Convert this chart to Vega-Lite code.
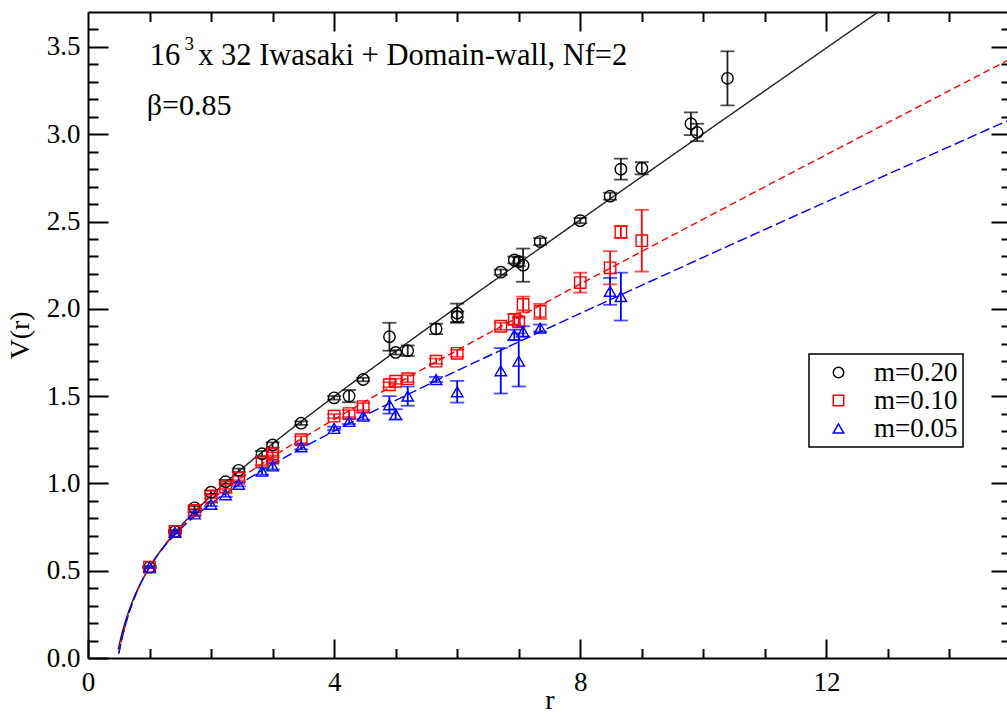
{
  "$schema": "https://vega.github.io/schema/vega-lite/v6.json",
  "width": 923,
  "height": 646,
  "autosize": {"type": "none"},
  "padding": {"left": 88, "top": 12, "right": -4, "bottom": 56},
  "background": "white",
  "config": {
    "view": {"stroke": null},
    "axis": {
      "grid": false,
      "domainColor": "black",
      "domainWidth": 2,
      "tickColor": "black",
      "tickWidth": 2,
      "labelColor": "black",
      "titleColor": "black",
      "labelFlush": false,
      "labelOverlap": false,
      "labelFont": "Liberation Serif",
      "labelFontSize": 27,
      "titleFont": "Liberation Serif",
      "titleFontSize": 28,
      "titleFontWeight": "normal"
    },
    "legend": {"strokeWidth": 1.5}
  },
  "datasets": {
    "fits": [
      {"m": "m=0.20", "r": 0.49, "V": 0.0495},
      {"m": "m=0.20", "r": 0.55, "V": 0.1382},
      {"m": "m=0.20", "r": 0.6, "V": 0.2009},
      {"m": "m=0.20", "r": 0.7, "V": 0.3044},
      {"m": "m=0.20", "r": 0.8, "V": 0.3882},
      {"m": "m=0.20", "r": 0.9, "V": 0.4587},
      {"m": "m=0.20", "r": 1.0, "V": 0.52},
      {"m": "m=0.20", "r": 1.2, "V": 0.624},
      {"m": "m=0.20", "r": 1.5, "V": 0.7524},
      {"m": "m=0.20", "r": 2.0, "V": 0.9292},
      {"m": "m=0.20", "r": 2.5, "V": 1.0838},
      {"m": "m=0.20", "r": 3.0, "V": 1.2273},
      {"m": "m=0.20", "r": 4.0, "V": 1.4977},
      {"m": "m=0.20", "r": 5.0, "V": 1.757},
      {"m": "m=0.20", "r": 6.0, "V": 2.0107},
      {"m": "m=0.20", "r": 7.0, "V": 2.2612},
      {"m": "m=0.20", "r": 8.0, "V": 2.5097},
      {"m": "m=0.20", "r": 10.0, "V": 3.0033},
      {"m": "m=0.20", "r": 12.0, "V": 3.494},
      {"m": "m=0.20", "r": 13.0, "V": 3.7388},
      {"m": "m=0.10", "r": 0.5, "V": 0.025},
      {"m": "m=0.10", "r": 0.55, "V": 0.1075},
      {"m": "m=0.10", "r": 0.6, "V": 0.1779},
      {"m": "m=0.10", "r": 0.7, "V": 0.2923},
      {"m": "m=0.10", "r": 0.8, "V": 0.3827},
      {"m": "m=0.10", "r": 0.9, "V": 0.457},
      {"m": "m=0.10", "r": 1.0, "V": 0.52},
      {"m": "m=0.10", "r": 1.2, "V": 0.6236},
      {"m": "m=0.10", "r": 1.5, "V": 0.7454},
      {"m": "m=0.10", "r": 2.0, "V": 0.9033},
      {"m": "m=0.10", "r": 2.5, "V": 1.0344},
      {"m": "m=0.10", "r": 3.0, "V": 1.1519},
      {"m": "m=0.10", "r": 4.0, "V": 1.3667},
      {"m": "m=0.10", "r": 5.0, "V": 1.568},
      {"m": "m=0.10", "r": 6.0, "V": 1.7626},
      {"m": "m=0.10", "r": 7.0, "V": 1.9533},
      {"m": "m=0.10", "r": 8.0, "V": 2.1416},
      {"m": "m=0.10", "r": 10.0, "V": 2.5139},
      {"m": "m=0.10", "r": 12.0, "V": 2.8829},
      {"m": "m=0.10", "r": 14.0, "V": 3.2499},
      {"m": "m=0.10", "r": 15.0, "V": 3.4329},
      {"m": "m=0.05", "r": 0.5, "V": 0.025},
      {"m": "m=0.05", "r": 0.55, "V": 0.1086},
      {"m": "m=0.05", "r": 0.6, "V": 0.1796},
      {"m": "m=0.05", "r": 0.7, "V": 0.2946},
      {"m": "m=0.05", "r": 0.8, "V": 0.3846},
      {"m": "m=0.05", "r": 0.9, "V": 0.4581},
      {"m": "m=0.05", "r": 1.0, "V": 0.52},
      {"m": "m=0.05", "r": 1.2, "V": 0.6206},
      {"m": "m=0.05", "r": 1.5, "V": 0.7369},
      {"m": "m=0.05", "r": 2.0, "V": 0.8841},
      {"m": "m=0.05", "r": 2.5, "V": 1.0037},
      {"m": "m=0.05", "r": 3.0, "V": 1.1092},
      {"m": "m=0.05", "r": 4.0, "V": 1.2995},
      {"m": "m=0.05", "r": 5.0, "V": 1.4758},
      {"m": "m=0.05", "r": 6.0, "V": 1.6452},
      {"m": "m=0.05", "r": 7.0, "V": 1.8107},
      {"m": "m=0.05", "r": 8.0, "V": 1.9736},
      {"m": "m=0.05", "r": 10.0, "V": 2.2951},
      {"m": "m=0.05", "r": 12.0, "V": 2.613},
      {"m": "m=0.05", "r": 14.0, "V": 2.929},
      {"m": "m=0.05", "r": 15.0, "V": 3.0865}
    ],
    "obs": [
      {"m": "m=0.20", "r": 1.0, "V": 0.52, "lo": 0.515, "hi": 0.525},
      {"m": "m=0.20", "r": 1.414, "V": 0.725, "lo": 0.718, "hi": 0.732},
      {"m": "m=0.20", "r": 1.732, "V": 0.86, "lo": 0.85, "hi": 0.87},
      {"m": "m=0.20", "r": 2.0, "V": 0.95, "lo": 0.94, "hi": 0.96},
      {"m": "m=0.20", "r": 2.236, "V": 1.01, "lo": 1.0, "hi": 1.02},
      {"m": "m=0.20", "r": 2.449, "V": 1.075, "lo": 1.065, "hi": 1.085},
      {"m": "m=0.20", "r": 2.828, "V": 1.17, "lo": 1.155, "hi": 1.185},
      {"m": "m=0.20", "r": 3.0, "V": 1.22, "lo": 1.205, "hi": 1.235},
      {"m": "m=0.20", "r": 3.464, "V": 1.345, "lo": 1.335, "hi": 1.355},
      {"m": "m=0.20", "r": 4.0, "V": 1.49, "lo": 1.48, "hi": 1.5},
      {"m": "m=0.20", "r": 4.243, "V": 1.5, "lo": 1.465, "hi": 1.535},
      {"m": "m=0.20", "r": 4.472, "V": 1.595, "lo": 1.585, "hi": 1.605},
      {"m": "m=0.20", "r": 4.899, "V": 1.84, "lo": 1.76, "hi": 1.92},
      {"m": "m=0.20", "r": 5.0, "V": 1.75, "lo": 1.738, "hi": 1.762},
      {"m": "m=0.20", "r": 5.196, "V": 1.76, "lo": 1.73, "hi": 1.79},
      {"m": "m=0.20", "r": 5.657, "V": 1.885, "lo": 1.855, "hi": 1.915},
      {"m": "m=0.20", "r": 6.0, "V": 1.975, "lo": 1.92, "hi": 2.03},
      {"m": "m=0.20", "r": 6.0, "V": 1.955, "lo": 1.925, "hi": 1.985},
      {"m": "m=0.20", "r": 6.708, "V": 2.21, "lo": 2.195, "hi": 2.225},
      {"m": "m=0.20", "r": 6.928, "V": 2.28, "lo": 2.26, "hi": 2.3},
      {"m": "m=0.20", "r": 7.0, "V": 2.27, "lo": 2.245, "hi": 2.295},
      {"m": "m=0.20", "r": 7.071, "V": 2.25, "lo": 2.155, "hi": 2.345},
      {"m": "m=0.20", "r": 7.348, "V": 2.385, "lo": 2.365, "hi": 2.405},
      {"m": "m=0.20", "r": 8.0, "V": 2.505, "lo": 2.49, "hi": 2.52},
      {"m": "m=0.20", "r": 8.485, "V": 2.645, "lo": 2.625, "hi": 2.665},
      {"m": "m=0.20", "r": 8.66, "V": 2.8, "lo": 2.74, "hi": 2.86},
      {"m": "m=0.20", "r": 9.0, "V": 2.805, "lo": 2.77, "hi": 2.84},
      {"m": "m=0.20", "r": 9.798, "V": 3.06, "lo": 2.995, "hi": 3.125},
      {"m": "m=0.20", "r": 9.899, "V": 3.01, "lo": 2.96, "hi": 3.06},
      {"m": "m=0.20", "r": 10.392, "V": 3.32, "lo": 3.165, "hi": 3.475},
      {"m": "m=0.10", "r": 1.0, "V": 0.52, "lo": 0.515, "hi": 0.525},
      {"m": "m=0.10", "r": 1.414, "V": 0.725, "lo": 0.718, "hi": 0.732},
      {"m": "m=0.10", "r": 1.732, "V": 0.845, "lo": 0.835, "hi": 0.855},
      {"m": "m=0.10", "r": 2.0, "V": 0.925, "lo": 0.915, "hi": 0.935},
      {"m": "m=0.10", "r": 2.236, "V": 0.98, "lo": 0.968, "hi": 0.992},
      {"m": "m=0.10", "r": 2.449, "V": 1.03, "lo": 1.018, "hi": 1.042},
      {"m": "m=0.10", "r": 2.828, "V": 1.125, "lo": 1.105, "hi": 1.145},
      {"m": "m=0.10", "r": 3.0, "V": 1.17, "lo": 1.15, "hi": 1.19},
      {"m": "m=0.10", "r": 3.0, "V": 1.145, "lo": 1.13, "hi": 1.16},
      {"m": "m=0.10", "r": 3.464, "V": 1.25, "lo": 1.23, "hi": 1.27},
      {"m": "m=0.10", "r": 4.0, "V": 1.385, "lo": 1.373, "hi": 1.397},
      {"m": "m=0.10", "r": 4.243, "V": 1.4, "lo": 1.38, "hi": 1.42},
      {"m": "m=0.10", "r": 4.472, "V": 1.44, "lo": 1.42, "hi": 1.46},
      {"m": "m=0.10", "r": 4.899, "V": 1.565, "lo": 1.55, "hi": 1.58},
      {"m": "m=0.10", "r": 5.0, "V": 1.585, "lo": 1.57, "hi": 1.6},
      {"m": "m=0.10", "r": 5.196, "V": 1.6, "lo": 1.58, "hi": 1.62},
      {"m": "m=0.10", "r": 5.657, "V": 1.7, "lo": 1.685, "hi": 1.715},
      {"m": "m=0.10", "r": 6.0, "V": 1.745, "lo": 1.725, "hi": 1.765},
      {"m": "m=0.10", "r": 6.708, "V": 1.9, "lo": 1.88, "hi": 1.92},
      {"m": "m=0.10", "r": 6.928, "V": 1.94, "lo": 1.91, "hi": 1.97},
      {"m": "m=0.10", "r": 7.0, "V": 1.925, "lo": 1.9, "hi": 1.95},
      {"m": "m=0.10", "r": 7.071, "V": 2.025, "lo": 1.98, "hi": 2.07},
      {"m": "m=0.10", "r": 7.348, "V": 1.985, "lo": 1.942, "hi": 2.028},
      {"m": "m=0.10", "r": 8.0, "V": 2.15, "lo": 2.093, "hi": 2.207},
      {"m": "m=0.10", "r": 8.485, "V": 2.235, "lo": 2.14, "hi": 2.33},
      {"m": "m=0.10", "r": 8.66, "V": 2.44, "lo": 2.405, "hi": 2.475},
      {"m": "m=0.10", "r": 9.0, "V": 2.39, "lo": 2.213, "hi": 2.567},
      {"m": "m=0.05", "r": 1.0, "V": 0.52, "lo": 0.515, "hi": 0.525},
      {"m": "m=0.05", "r": 1.414, "V": 0.72, "lo": 0.713, "hi": 0.727},
      {"m": "m=0.05", "r": 1.732, "V": 0.825, "lo": 0.815, "hi": 0.835},
      {"m": "m=0.05", "r": 2.0, "V": 0.88, "lo": 0.87, "hi": 0.89},
      {"m": "m=0.05", "r": 2.236, "V": 0.935, "lo": 0.923, "hi": 0.947},
      {"m": "m=0.05", "r": 2.449, "V": 0.995, "lo": 0.983, "hi": 1.007},
      {"m": "m=0.05", "r": 2.828, "V": 1.07, "lo": 1.05, "hi": 1.09},
      {"m": "m=0.05", "r": 3.0, "V": 1.1, "lo": 1.08, "hi": 1.12},
      {"m": "m=0.05", "r": 3.464, "V": 1.21, "lo": 1.195, "hi": 1.225},
      {"m": "m=0.05", "r": 4.0, "V": 1.315, "lo": 1.305, "hi": 1.325},
      {"m": "m=0.05", "r": 4.243, "V": 1.355, "lo": 1.34, "hi": 1.37},
      {"m": "m=0.05", "r": 4.472, "V": 1.385, "lo": 1.365, "hi": 1.405},
      {"m": "m=0.05", "r": 4.899, "V": 1.45, "lo": 1.4, "hi": 1.5},
      {"m": "m=0.05", "r": 5.0, "V": 1.395, "lo": 1.365, "hi": 1.425},
      {"m": "m=0.05", "r": 5.196, "V": 1.5, "lo": 1.445, "hi": 1.555},
      {"m": "m=0.05", "r": 5.657, "V": 1.595, "lo": 1.58, "hi": 1.61},
      {"m": "m=0.05", "r": 6.0, "V": 1.525, "lo": 1.463, "hi": 1.587},
      {"m": "m=0.05", "r": 6.708, "V": 1.645, "lo": 1.515, "hi": 1.775},
      {"m": "m=0.05", "r": 6.928, "V": 1.85, "lo": 1.82, "hi": 1.88},
      {"m": "m=0.05", "r": 7.0, "V": 1.7, "lo": 1.555, "hi": 1.86},
      {"m": "m=0.05", "r": 7.071, "V": 1.87, "lo": 1.84, "hi": 1.9},
      {"m": "m=0.05", "r": 7.348, "V": 1.89, "lo": 1.87, "hi": 1.91},
      {"m": "m=0.05", "r": 8.485, "V": 2.1, "lo": 2.023, "hi": 2.177},
      {"m": "m=0.05", "r": 8.66, "V": 2.07, "lo": 1.933, "hi": 2.207}
    ]
  },
  "resolve": {"axis": {"x": "independent", "y": "independent"}},
  "layer": [
    {
      "data": {"name": "fits"},
      "mark": {"type": "line", "interpolate": "monotone", "strokeWidth": 1.4, "clip": true},
      "encoding": {
        "x": {
          "field": "r", "type": "quantitative",
          "scale": {"domain": [0, 15], "nice": false, "zero": false},
          "axis": {"orient": "bottom", "values": [0, 4, 8, 12], "tickSize": -19, "labelPadding": 30,
                   "title": "r", "titleY": 50, "titleBaseline": "alphabetic"}
        },
        "y": {
          "field": "V", "type": "quantitative",
          "scale": {"domain": [0, 3.7], "nice": false, "zero": false},
          "axis": {"orient": "left", "values": [0, 0.5, 1, 1.5, 2, 2.5, 3, 3.5], "format": ".1f",
                   "tickSize": -20, "labelPadding": 28,
                   "title": "V(r)", "titleX": -60, "titleBaseline": "alphabetic"}
        },
        "stroke": {
          "field": "m", "type": "nominal",
          "scale": {"domain": ["m=0.05", "m=0.10", "m=0.20"], "range": ["#0000ff", "#ff0000", "#222222"]},
          "legend": null
        },
        "strokeDash": {
          "field": "m", "type": "nominal",
          "scale": {"domain": ["m=0.05", "m=0.10", "m=0.20"], "range": [[10, 4], [7, 4], [1, 0]]},
          "legend": null
        }
      }
    },
    {
      "data": {"name": "obs"},
      "mark": {"type": "rule", "strokeWidth": 1.8},
      "encoding": {
        "x": {
          "field": "r", "type": "quantitative",
          "scale": {"domain": [0, 15], "nice": false, "zero": false},
          "axis": {"orient": "bottom", "values": [1, 2, 3, 5, 6, 7, 9, 10, 11, 13, 14], "tickSize": -9.5,
                   "labels": false, "domain": false, "title": null}
        },
        "y": {
          "field": "lo", "type": "quantitative",
          "scale": {"domain": [0, 3.7], "nice": false, "zero": false},
          "axis": {"orient": "left",
                   "values": [0.1, 0.2, 0.3, 0.4, 0.6, 0.7, 0.8, 0.9, 1.1, 1.2, 1.3, 1.4, 1.6, 1.7, 1.8, 1.9, 2.1, 2.2, 2.3, 2.4, 2.6, 2.7, 2.8, 2.9, 3.1, 3.2, 3.3, 3.4, 3.6],
                   "tickSize": -10, "labels": false, "domain": false, "title": null}
        },
        "y2": {"field": "hi"},
        "stroke": {
          "field": "m", "type": "nominal",
          "scale": {"domain": ["m=0.05", "m=0.10", "m=0.20"], "range": ["#0000ff", "#ff0000", "#000000"]},
          "legend": null
        }
      }
    },
    {
      "data": {"name": "obs"},
      "mark": {"type": "tick", "orient": "horizontal", "size": 14, "thickness": 1.8},
      "encoding": {
        "x": {
          "field": "r", "type": "quantitative",
          "scale": {"domain": [0, 15], "nice": false, "zero": false},
          "axis": {"orient": "top", "values": [4, 8, 12], "tickSize": -19, "labels": false, "title": null}
        },
        "y": {
          "field": "lo", "type": "quantitative",
          "scale": {"domain": [0, 3.7], "nice": false, "zero": false},
          "axis": {"orient": "right", "values": [0.5, 1, 1.5, 2, 2.5, 3, 3.5], "tickSize": -20,
                   "labels": false, "title": null}
        },
        "fill": {
          "field": "m", "type": "nominal",
          "scale": {"domain": ["m=0.05", "m=0.10", "m=0.20"], "range": ["#0000ff", "#ff0000", "#000000"]},
          "legend": null
        }
      }
    },
    {
      "data": {"name": "obs"},
      "mark": {"type": "tick", "orient": "horizontal", "size": 14, "thickness": 1.8},
      "encoding": {
        "x": {
          "field": "r", "type": "quantitative",
          "scale": {"domain": [0, 15], "nice": false, "zero": false},
          "axis": {"orient": "top", "values": [1, 2, 3, 5, 6, 7, 9, 10, 11, 13, 14], "tickSize": -9.5,
                   "labels": false, "domain": false, "title": null}
        },
        "y": {
          "field": "hi", "type": "quantitative",
          "scale": {"domain": [0, 3.7], "nice": false, "zero": false},
          "axis": {"orient": "right",
                   "values": [0.1, 0.2, 0.3, 0.4, 0.6, 0.7, 0.8, 0.9, 1.1, 1.2, 1.3, 1.4, 1.6, 1.7, 1.8, 1.9, 2.1, 2.2, 2.3, 2.4, 2.6, 2.7, 2.8, 2.9, 3.1, 3.2, 3.3, 3.4, 3.6],
                   "tickSize": -10, "labels": false, "domain": false, "title": null}
        },
        "fill": {
          "field": "m", "type": "nominal",
          "scale": {"domain": ["m=0.05", "m=0.10", "m=0.20"], "range": ["#0000ff", "#ff0000", "#000000"]},
          "legend": null
        }
      }
    },
    {
      "data": {"name": "obs"},
      "mark": {"type": "point", "filled": false, "size": 130, "strokeWidth": 1.4, "opacity": 1},
      "encoding": {
        "x": {"field": "r", "type": "quantitative", "scale": {"domain": [0, 15], "nice": false, "zero": false}, "axis": null},
        "y": {"field": "V", "type": "quantitative", "scale": {"domain": [0, 3.7], "nice": false, "zero": false}, "axis": null},
        "color": {
          "field": "m", "type": "nominal",
          "scale": {"domain": ["m=0.20", "m=0.10", "m=0.05"], "range": ["#000000", "#ff0000", "#0000ff"]},
          "legend": {"title": null, "orient": "none", "legendX": 721, "legendY": 342, "direction": "vertical",
                     "padding": 5, "strokeColor": "black", "fillColor": "white", "symbolOffset": 11,
                     "labelOffset": 22, "labelFont": "Liberation Serif", "labelFontSize": 27,
                     "labelColor": "black", "rowPadding": 0, "symbolSize": 110, "symbolStrokeWidth": 1.5}
        },
        "shape": {
          "field": "m", "type": "nominal",
          "scale": {"domain": ["m=0.20", "m=0.10", "m=0.05"], "range": ["circle", "square", "triangle-up"]},
          "legend": {"title": null, "orient": "none", "legendX": 721, "legendY": 342, "direction": "vertical",
                     "padding": 5, "strokeColor": "black", "fillColor": "white", "symbolOffset": 11,
                     "labelOffset": 22, "labelFont": "Liberation Serif", "labelFontSize": 27,
                     "labelColor": "black", "rowPadding": 0, "symbolSize": 110, "symbolStrokeWidth": 1.5}
        }
      }
    },
    {
      "data": {"values": [{}]},
      "mark": {"type": "text", "align": "left", "baseline": "alphabetic", "font": "Liberation Serif", "fontSize": 30.5, "color": "black"},
      "encoding": {
        "x": {"datum": 1.003, "type": "quantitative", "scale": {"domain": [0, 15], "nice": false, "zero": false}, "axis": null},
        "y": {"datum": 3.396, "type": "quantitative", "scale": {"domain": [0, 3.7], "nice": false, "zero": false}, "axis": null},
        "text": {"value": "16"}
      }
    },
    {
      "data": {"values": [{}]},
      "mark": {"type": "text", "align": "left", "baseline": "alphabetic", "font": "Liberation Serif", "fontSize": 19, "color": "black"},
      "encoding": {
        "x": {"datum": 1.57, "type": "quantitative", "scale": {"domain": [0, 15], "nice": false, "zero": false}, "axis": null},
        "y": {"datum": 3.482, "type": "quantitative", "scale": {"domain": [0, 3.7], "nice": false, "zero": false}, "axis": null},
        "text": {"value": "3"}
      }
    },
    {
      "data": {"values": [{}]},
      "mark": {"type": "text", "align": "left", "baseline": "alphabetic", "font": "Liberation Serif", "fontSize": 30.5, "color": "black"},
      "encoding": {
        "x": {"datum": 1.79, "type": "quantitative", "scale": {"domain": [0, 15], "nice": false, "zero": false}, "axis": null},
        "y": {"datum": 3.396, "type": "quantitative", "scale": {"domain": [0, 3.7], "nice": false, "zero": false}, "axis": null},
        "text": {"value": "x 32 Iwasaki + Domain-wall, Nf=2"}
      }
    },
    {
      "data": {"values": [{}]},
      "mark": {"type": "text", "align": "left", "baseline": "alphabetic", "font": "Liberation Serif", "fontSize": 30, "color": "black"},
      "encoding": {
        "x": {"datum": 0.954, "type": "quantitative", "scale": {"domain": [0, 15], "nice": false, "zero": false}, "axis": null},
        "y": {"datum": 3.11, "type": "quantitative", "scale": {"domain": [0, 3.7], "nice": false, "zero": false}, "axis": null},
        "text": {"value": "β=0.85"}
      }
    }
  ]
}
